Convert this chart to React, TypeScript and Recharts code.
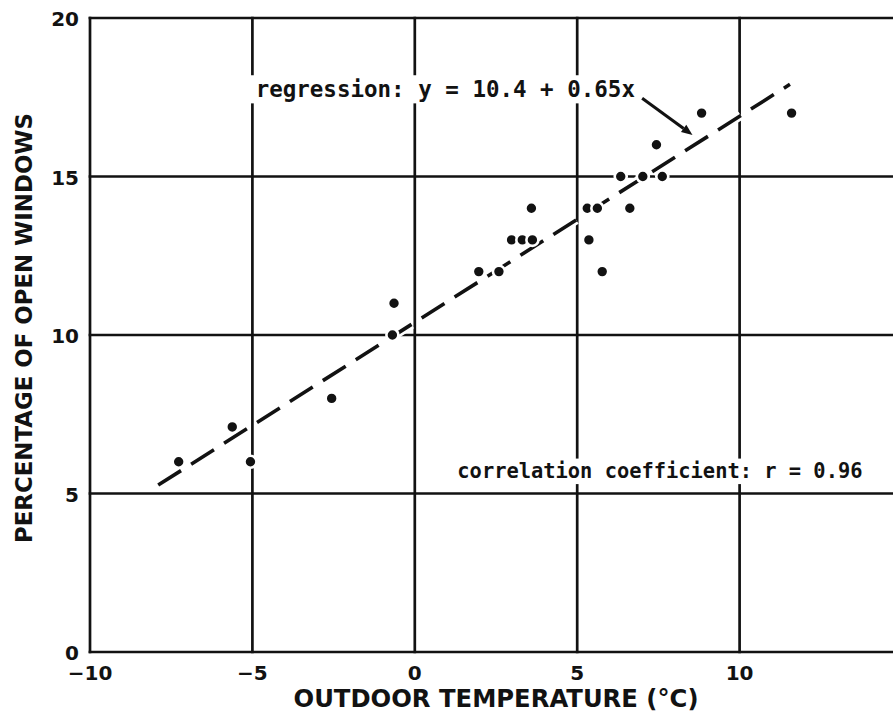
import React from 'react';
import {
  ScatterChart,
  Scatter,
  XAxis,
  YAxis,
  ReferenceLine,
} from 'recharts';

// Observed outdoor temperatures (°C) and share of open windows (%)
const temperatures = [
  -7.27, -5.62, -5.06, -2.56, -0.64, -0.69, 1.97, 2.59, 2.98, 3.31, 3.62, 3.59,
  5.36, 5.77, 5.31, 5.62, 6.62, 6.34, 7.02, 7.62, 7.44, 8.83, 11.6,
];
const openWindowPct = [
  6.0, 7.1, 6.0, 8.0, 11.0, 10.0, 12.0, 12.0, 13.0, 13.0, 13.0, 14.0,
  13.0, 12.0, 14.0, 14.0, 14.0, 15.0, 15.0, 15.0, 16.0, 17.0, 17.0,
];

const xTicks = [-10, -5, 0, 5, 10, 15];
const xTickLabels = ['\u221210', '\u22125', '0', '5', '10', ''];
const yTicks = [0, 5, 10, 15, 20];
const yTickLabels = ['0', '5', '10', '15', '20'];

// Fitted regression y = a + b·x and its extent along the temperature axis
const regressionIntercept = 10.4;
const regressionSlope = 0.65;
const regressionExtent = [-7.9, 11.55];
const correlationR = 0.96;

const points = temperatures.map((t, i) => ({ t, p: openWindowPct[i] }));
const fitAt = (x: number) => regressionIntercept + regressionSlope * x;
const regressionSegment = regressionExtent.map((x) => ({ x, y: fitAt(x) }));

const X_MIN = xTicks[0];
const X_MAX = xTicks[xTicks.length - 1];
const Y_MIN = yTicks[0];
const Y_MAX = yTicks[yTicks.length - 1];

const INK = '#121212';
const GRID_W = 2.7;
const tickFont = { fontFamily: 'DejaVu Sans', fontWeight: 700, fontSize: 20, fill: INK };

const XTick = (props: any) => {
  const label = xTickLabels[xTicks.indexOf(props.payload.value)] ?? '';
  if (!label) return <g />;
  return (
    <text x={props.x} y={props.y + 28} textAnchor="middle" {...tickFont}>
      {label}
    </text>
  );
};

const YTick = (props: any) => (
  <text x={props.x - 11} y={props.y + 8} textAnchor="end" {...tickFont}>
    {yTickLabels[yTicks.indexOf(props.payload.value)] ?? ''}
  </text>
);

const XTitle = (props: any) => {
  const vb = props.viewBox;
  return (
    <text
      x={vb.x + vb.width / 2}
      y={vb.y + 54.5}
      textAnchor="middle"
      textLength={405}
      lengthAdjust="spacingAndGlyphs"
      fontFamily="DejaVu Sans"
      fontWeight={700}
      fontSize={24}
      fill={INK}
    >
      OUTDOOR TEMPERATURE (°C)
    </text>
  );
};

const YTitle = (props: any) => {
  const vb = props.viewBox;
  const cx = 32;
  const cy = vb.y + vb.height / 2 - 7;
  return (
    <text
      x={cx}
      y={cy}
      transform={`rotate(-90 ${cx} ${cy})`}
      textAnchor="middle"
      textLength={430}
      lengthAdjust="spacingAndGlyphs"
      fontFamily="DejaVu Sans"
      fontWeight={700}
      fontSize={23}
      fill={INK}
    >
      PERCENTAGE OF OPEN WINDOWS
    </text>
  );
};

const GridRule = (props: any) => (
  <line
    x1={props.x1}
    y1={props.y1}
    x2={props.x2}
    y2={props.y2}
    stroke={INK}
    strokeWidth={GRID_W}
    strokeLinecap="square"
  />
);

// Dashed fit line with a white knock-out underneath
const DashedFit = (props: any) => {
  const { x1, y1, x2, y2 } = props;
  return (
    <g>
      <line x1={x1} y1={y1} x2={x2} y2={y2} stroke="#fff" strokeWidth={9} strokeDasharray="27 12" />
      <line x1={x1} y1={y1} x2={x2} y2={y2} stroke={INK} strokeWidth={3.6} strokeDasharray="27 12" />
    </g>
  );
};

// Leader arrow from the equation to the fit line
const Arrow = (props: any) => {
  const { x1, y1, x2, y2 } = props;
  const ang = Math.atan2(y2 - y1, x2 - x1);
  const len = 11;
  const half = 4.5;
  const bx = x2 - len * Math.cos(ang);
  const by = y2 - len * Math.sin(ang);
  const px = -Math.sin(ang) * half;
  const py = Math.cos(ang) * half;
  return (
    <g>
      <line x1={x1} y1={y1} x2={bx} y2={by} stroke={INK} strokeWidth={3} />
      <polygon points={`${x2},${y2} ${bx + px},${by + py} ${bx - px},${by - py}`} fill={INK} />
    </g>
  );
};

const Dot = (props: any) => (
  <circle cx={props.cx} cy={props.cy} r={6} fill={INK} stroke="#fff" strokeWidth={2.6} />
);

// Monospaced annotation on a white backing that knocks out the grid
const makeNote = (text: string, size: number) => (props: any) => {
  const w = text.length * size * 0.602;
  const x = props.x1;
  const y = props.y1;
  return (
    <g>
      <rect x={x - 6} y={y - size * 0.95} width={w + 10} height={size * 1.25} fill="#fff" />
      <text
        x={x}
        y={y}
        textAnchor="start"
        fontFamily="DejaVu Sans Mono"
        fontWeight={700}
        fontSize={size}
        fill={INK}
      >
        {text}
      </text>
    </g>
  );
};

const regressionText = `regression: y = ${regressionIntercept} + ${regressionSlope}x`;
const correlationText = `correlation coefficient: r = ${correlationR}`;

const regressionNoteAt = { x: -4.9, y: 17.52 };
const correlationNoteAt = { x: 1.31, y: 5.49 };

export default function App() {
  return (
    <div
      style={{
        position: 'absolute',
        left: 0,
        top: 0,
        width: 893,
        height: 712,
        overflow: 'hidden',
        background: '#fff',
      }}
    >
      <ScatterChart
        width={910}
        height={712}
        margin={{ top: 18, right: 8, bottom: 0, left: 0 }}
      >
        <XAxis
          type="number"
          dataKey="t"
          domain={[X_MIN, X_MAX]}
          ticks={xTicks}
          allowDataOverflow
          axisLine={false}
          tickLine={false}
          tickSize={0}
          tickMargin={0}
          height={60}
          tick={<XTick />}
          interval={0}
          label={{ content: <XTitle /> }}
        />
        <YAxis
          type="number"
          dataKey="p"
          domain={[Y_MIN, Y_MAX]}
          ticks={yTicks}
          allowDataOverflow
          axisLine={false}
          tickLine={false}
          tickSize={0}
          tickMargin={0}
          width={90}
          tick={<YTick />}
          interval={0}
          label={{ content: <YTitle /> }}
        />
        {xTicks.map((v) => (
          <ReferenceLine
            key={`gx${v}`}
            segment={[
              { x: v, y: Y_MIN },
              { x: v, y: Y_MAX },
            ]}
            shape={GridRule}
          />
        ))}
        {yTicks.map((v) => (
          <ReferenceLine
            key={`gy${v}`}
            segment={[
              { x: X_MIN, y: v },
              { x: X_MAX, y: v },
            ]}
            shape={GridRule}
          />
        ))}
        <ReferenceLine segment={regressionSegment} shape={DashedFit} />
        <ReferenceLine
          segment={[
            { x: 7.0, y: 17.47 },
            { x: 8.55, y: 16.31 },
          ]}
          shape={Arrow}
        />
        <ReferenceLine
          segment={[regressionNoteAt, regressionNoteAt]}
          shape={makeNote(regressionText, 22.5)}
        />
        <ReferenceLine
          segment={[correlationNoteAt, correlationNoteAt]}
          shape={makeNote(correlationText, 20.4)}
        />
        <Scatter data={points} shape={Dot} isAnimationActive={false} />
      </ScatterChart>
    </div>
  );
}
